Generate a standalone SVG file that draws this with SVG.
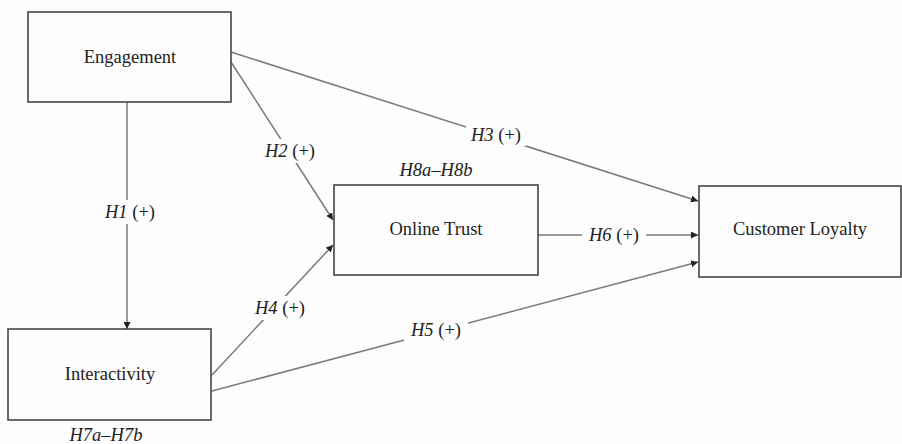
<svg xmlns="http://www.w3.org/2000/svg" width="902" height="444" viewBox="0 0 902 444">
<style>
.box{fill:#fdfdfd;stroke:#454545;stroke-width:1.6}
.t{font-family:"Liberation Serif","Times New Roman",serif;font-size:18.5px;fill:#222;text-anchor:middle}
.i{font-style:italic}
.ln{stroke:#7a7a7a;stroke-width:1.5;fill:none}
.bg{fill:#fdfdfd}
</style>
<defs>
<marker id="ah" viewBox="0 0 10 10" refX="10" refY="5" markerWidth="7" markerHeight="7" orient="auto" markerUnits="userSpaceOnUse">
<path d="M0,0 L10,5 L0,10 z" fill="#222"/>
</marker>
</defs>
<rect width="902" height="444" fill="#fdfdfd"/>
<g id="connectors">
<line class="ln" x1="127" y1="102" x2="127" y2="329" marker-end="url(#ah)"/>
<line class="ln" x1="231" y1="62" x2="333" y2="220" marker-end="url(#ah)"/>
<line class="ln" x1="231" y1="52" x2="698" y2="201" marker-end="url(#ah)"/>
<line class="ln" x1="212" y1="375" x2="333" y2="245" marker-end="url(#ah)"/>
<line class="ln" x1="212" y1="391" x2="698" y2="262" marker-end="url(#ah)"/>
<line class="ln" x1="538" y1="235" x2="698" y2="235" marker-end="url(#ah)"/>
<rect class="bg" x="96" y="200" width="66" height="24"/>
<rect class="bg" x="255" y="139" width="70" height="24"/>
<rect class="bg" x="466" y="122" width="60" height="24"/>
<rect class="bg" x="249" y="296" width="62" height="24"/>
<rect class="bg" x="404" y="318" width="64" height="24"/>
<rect class="bg" x="582" y="223" width="64" height="24"/>
<text class="t" x="130" y="218"><tspan class="i">H1</tspan> (+)</text>
<text class="t" x="290" y="157"><tspan class="i">H2</tspan> (+)</text>
<text class="t" x="496" y="141"><tspan class="i">H3</tspan> (+)</text>
<text class="t" x="280" y="314"><tspan class="i">H4</tspan> (+)</text>
<text class="t" x="436" y="336"><tspan class="i">H5</tspan> (+)</text>
<text class="t" x="614" y="241"><tspan class="i">H6</tspan> (+)</text>
</g>
<g id="engagement">
<rect class="box" x="28" y="12" width="203" height="90"/>
<text class="t" x="130" y="63">Engagement</text>
</g>
<g id="interactivity">
<rect class="box" x="8" y="329" width="203" height="91"/>
<text class="t" x="110" y="380">Interactivity</text>
<text class="t i" x="106" y="441">H7a–H7b</text>
</g>
<g id="online-trust">
<rect class="box" x="334" y="185" width="204" height="90"/>
<text class="t" x="436" y="235">Online Trust</text>
<text class="t i" x="436" y="176">H8a–H8b</text>
</g>
<g id="customer-loyalty">
<rect class="box" x="699" y="186" width="202" height="91"/>
<text class="t" x="800" y="235">Customer Loyalty</text>
</g>
</svg>
